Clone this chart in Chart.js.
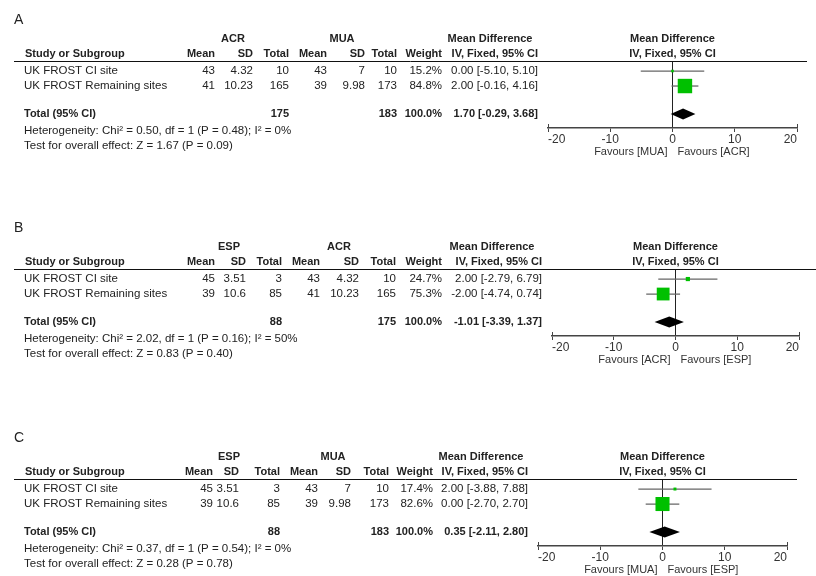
<!DOCTYPE html>
<html>
<head>
<meta charset="utf-8">
<script src="https://cdn.jsdelivr.net/npm/chart.js@4.4.1/dist/chart.umd.min.js"></script>
<style>
html, body { margin: 0; padding: 0; background: #fff; width: 816px; height: 576px; overflow: hidden; }
canvas { position: absolute; left: 0; }
</style>
</head>
<body>
<canvas id="pA"></canvas>
<canvas id="pB"></canvas>
<canvas id="pC"></canvas>
<script>
// ---- data ----
const panelLabels = ['A', 'B', 'C'];
const studies = ['UK FROST CI site', 'UK FROST Remaining sites'];
const groupNames = [['ACR', 'MUA'], ['ESP', 'ACR'], ['ESP', 'MUA']];
const expMean = [[43, 41], [45, 39], [45, 39]];
const expSD = [['4.32', '10.23'], ['3.51', '10.6'], ['3.51', '10.6']];
const expN = [[10, 165], [3, 85], [3, 85]];
const ctlMean = [[43, 39], [43, 41], [43, 39]];
const ctlSD = [['7', '9.98'], ['4.32', '10.23'], ['7', '9.98']];
const ctlN = [[10, 173], [10, 165], [10, 173]];
const weights = [[15.2, 84.8], [24.7, 75.3], [17.4, 82.6]];
const meanDiff = [[0.00, 2.00], [2.00, -2.00], [2.00, 0.00]];
const ciLow = [[-5.10, -0.16], [-2.79, -4.74], [-3.88, -2.70]];
const ciHigh = [[5.10, 4.16], [6.79, 0.74], [7.88, 2.70]];
const totalN = [[175, 183], [88, 175], [88, 183]];
const totalMD = [1.70, -1.01, 0.35];
const totalLow = [-0.29, -3.39, -2.11];
const totalHigh = [3.68, 1.37, 2.80];
const heterogeneity = [
  'Heterogeneity: Chi² = 0.50, df = 1 (P = 0.48); I² = 0%',
  'Heterogeneity: Chi² = 2.02, df = 1 (P = 0.16); I² = 50%',
  'Heterogeneity: Chi² = 0.37, df = 1 (P = 0.54); I² = 0%'
];
const overallEffect = [
  'Test for overall effect: Z = 1.67 (P = 0.09)',
  'Test for overall effect: Z = 0.83 (P = 0.40)',
  'Test for overall effect: Z = 0.28 (P = 0.78)'
];
const favours = [['Favours [MUA]', 'Favours [ACR]'], ['Favours [ACR]', 'Favours [ESP]'], ['Favours [MUA]', 'Favours [ESP]']];
const axisMin = -20, axisMax = 20, axisStep = 10;

// ---- layout (pixels) ----
const layouts = [
  { id: 'pA', top: 0,   height: 208, x0: 548, x1: 797, lineEnd: 807, cols: [215, 253, 289, 327, 365, 397, 442, 538], grp: [233, 342], mdHead: 490 },
  { id: 'pB', top: 208, height: 210, x0: 552, x1: 799, lineEnd: 816, cols: [215, 246, 282, 320, 359, 396, 442, 542], grp: [229, 339], mdHead: 492 },
  { id: 'pC', top: 418, height: 158, x0: 538, x1: 787, lineEnd: 797, cols: [213, 239, 280, 318, 351, 389, 433, 528], grp: [229, 333], mdHead: 481 }
];
const LINE_Y = 61, AXIS_Y = 128, AXIS_H = 30;
const ROW_Y = [1, 2], TOTAL_Y = 3.87;
const FONT = '"Liberation Sans", Arial, sans-serif';
const TEXT = '#222';
const GREEN = '#00c000';

function fmt(v) { return v.toFixed(2); }
function ciText(m, lo, hi) { return fmt(m) + ' [' + fmt(lo) + ', ' + fmt(hi) + ']'; }

function tablePlugin(p, lay) {
  return {
    id: 'table' + p,
    afterDraw(chart) {
      const ctx = chart.ctx;
      const ys = chart.scales.y, xs = chart.scales.x;
      const top = chart.chartArea.top, bottom = chart.chartArea.bottom;
      const zero = xs.getPixelForValue(0);
      const c = lay.cols;
      const txt = (s, x, y, align, bold, size) => {
        ctx.font = (bold ? 'bold ' : '') + (size || (bold ? 11 : 11.5)) + 'px ' + FONT;
        ctx.textAlign = align;
        ctx.fillText(s, x, y);
      };
      ctx.save();
      ctx.fillStyle = TEXT;
      ctx.textBaseline = 'middle';

      txt(panelLabels[p], 14, top - 41, 'left', false, 14);

      // group headers
      txt(groupNames[p][0], lay.grp[0], top - 22, 'center', true);
      txt(groupNames[p][1], lay.grp[1], top - 22, 'center', true);
      txt('Mean Difference', lay.mdHead, top - 22, 'center', true);
      txt('Mean Difference', zero, top - 22, 'center', true);

      // column headers
      const hy = top - 7;
      txt('Study or Subgroup', 25, hy, 'left', true);
      ['Mean', 'SD', 'Total', 'Mean', 'SD', 'Total', 'Weight'].forEach((h, i) => txt(h, c[i], hy, 'right', true));
      txt('IV, Fixed, 95% CI', c[7], hy, 'right', true);
      txt('IV, Fixed, 95% CI', zero, hy, 'center', true);

      // header rule
      ctx.strokeStyle = '#111';
      ctx.lineWidth = 1;
      ctx.beginPath();
      ctx.moveTo(14, top + 0.5);
      ctx.lineTo(lay.lineEnd, top + 0.5);
      ctx.stroke();

      // study rows
      studies.forEach((s, i) => {
        const y = ys.getPixelForValue(ROW_Y[i]);
        txt(s, 24, y, 'left');
        txt(String(expMean[p][i]), c[0], y, 'right');
        txt(expSD[p][i], c[1], y, 'right');
        txt(String(expN[p][i]), c[2], y, 'right');
        txt(String(ctlMean[p][i]), c[3], y, 'right');
        txt(ctlSD[p][i], c[4], y, 'right');
        txt(String(ctlN[p][i]), c[5], y, 'right');
        txt(weights[p][i].toFixed(1) + '%', c[6], y, 'right');
        txt(ciText(meanDiff[p][i], ciLow[p][i], ciHigh[p][i]), c[7], y, 'right');
      });

      // total row
      const ty = ys.getPixelForValue(TOTAL_Y);
      txt('Total (95% CI)', 24, ty, 'left', true);
      txt(String(totalN[p][0]), c[2], ty, 'right', true);
      txt(String(totalN[p][1]), c[5], ty, 'right', true);
      txt('100.0%', c[6], ty, 'right', true);
      txt(ciText(totalMD[p], totalLow[p], totalHigh[p]), c[7], ty, 'right', true);
      txt(heterogeneity[p], 24, ty + 17, 'left');
      txt(overallEffect[p], 24, ty + 32, 'left');

      // diamond for pooled estimate
      const dl = xs.getPixelForValue(totalLow[p]);
      const dm = xs.getPixelForValue(totalMD[p]);
      const dr = xs.getPixelForValue(totalHigh[p]);
      ctx.fillStyle = '#000';
      ctx.beginPath();
      ctx.moveTo(dl, ty);
      ctx.lineTo(dm, ty - 5.5);
      ctx.lineTo(dr, ty);
      ctx.lineTo(dm, ty + 5.5);
      ctx.closePath();
      ctx.fill();

      // end ticks rising above axis
      ctx.strokeStyle = '#444';
      ctx.lineWidth = 1;
      ctx.beginPath();
      [axisMin, axisMax].forEach(v => {
        const x = Math.round(xs.getPixelForValue(v)) + 0.5;
        ctx.moveTo(x, bottom - 4);
        ctx.lineTo(x, bottom);
      });
      ctx.stroke();

      // favours labels
      ctx.fillStyle = '#333';
      txt(favours[p][0], zero - 5, bottom + 24, 'right', false, 11);
      txt(favours[p][1], zero + 5, bottom + 24, 'left', false, 11);
      ctx.restore();
    }
  };
}

layouts.forEach((lay, p) => {
  const el = document.getElementById(lay.id);
  el.width = 816;
  el.height = lay.height;
  el.style.top = lay.top + 'px';

  const datasets = [{
    label: 'Studies',
    data: meanDiff[p].map((m, i) => ({ x: m, y: ROW_Y[i] })),
    pointStyle: 'rect',
    pointRadius: weights[p].map(w => (w * 0.17) / Math.SQRT2),
    backgroundColor: GREEN,
    borderWidth: 0,
    showLine: false
  }];
  studies.forEach((s, i) => {
    datasets.push({
      label: s + ' CI',
      data: [{ x: ciLow[p][i], y: ROW_Y[i] }, { x: ciHigh[p][i], y: ROW_Y[i] }],
      showLine: true,
      borderColor: '#666',
      borderWidth: 1.3,
      pointRadius: 0
    });
  });

  new Chart(el, {
    type: 'scatter',
    data: { datasets },
    options: {
      responsive: false,
      animation: false,
      devicePixelRatio: 1,
      layout: { padding: { left: lay.x0, right: 816 - lay.x1, top: LINE_Y, bottom: lay.height - AXIS_Y - AXIS_H } },
      plugins: { legend: { display: false }, tooltip: { enabled: false } },
      scales: {
        x: {
          type: 'linear',
          min: axisMin,
          max: axisMax,
          afterFit(scale) { scale.height = AXIS_H; },
          ticks: { stepSize: axisStep, align: 'inner', color: '#333', padding: 0, font: { family: FONT, size: 12 } },
          grid: {
            color: c => (c.tick && c.tick.value === 0 ? '#222' : 'rgba(0,0,0,0)'),
            tickColor: '#444',
            tickLength: 4,
            lineWidth: 1
          },
          border: { color: '#444', width: 1.5 }
        },
        y: { type: 'linear', display: false, reverse: true, min: 0.33, max: 4.8 }
      }
    },
    plugins: [tablePlugin(p, lay)]
  });
});
</script>
</body>
</html>
